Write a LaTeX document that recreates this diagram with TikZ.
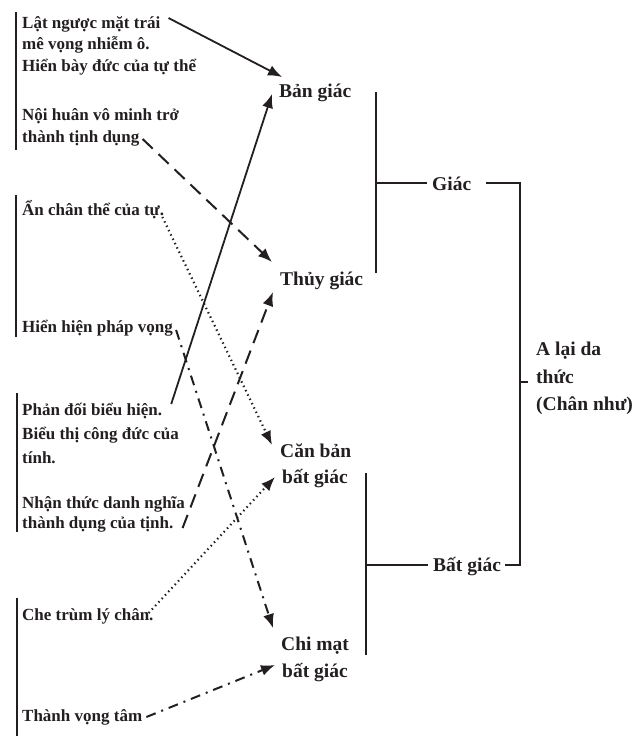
\documentclass[tikz,border=0pt]{standalone}
\usepackage{fontspec}
\setmainfont{Liberation Serif}
\usetikzlibrary{arrows.meta,calc}
\definecolor{ink}{HTML}{231F20}
\begin{document}
\begin{tikzpicture}[x=1pt,y=-1pt,
  lbl/.style={font=\fontsize{17}{20}\selectfont\bfseries, anchor=base west, inner sep=0pt, text=ink},
  mid/.style={font=\fontsize{19.5}{22}\selectfont\bfseries, anchor=base west, inner sep=0pt, text=ink},
  bar/.style={line width=2.6pt, draw=ink},
  brk/.style={line width=1.8pt, draw=ink},
  arr/.style={line width=1.8pt, draw=ink, -{Latex[length=14pt,width=11pt]}},
  longdash/.style={line width=2pt, dash pattern=on 14pt off 8pt},
  dots/.style={line width=2.2pt, dash pattern=on 1.4pt off 3.4pt},
  dashdot/.style={line width=2pt, dash pattern=on 10pt off 6pt on 2pt off 6pt},
]
\useasboundingbox (0,0) rectangle (636,736);

% left bars
\draw[bar] (16,12) -- (16,150);
\draw[bar] (16,195) -- (16,337);
\draw[bar] (17,393) -- (17,532);
\draw[bar] (17,598) -- (17,736);

% left texts
\node[lbl] (t1a) at (22,28) {Lật ngược mặt trái};
\node[lbl] (t1b) at (22,49) {mê vọng nhiễm ô.};
\node[lbl] (t1c) at (22,71) {Hiển bày đức của tự thể};
\node[lbl] (t2a) at (22,120) {Nội huân vô minh trở};
\node[lbl] (t2b) at (22,142) {thành tịnh dụng};
\node[lbl] (t3) at (22,215) {Ẩn chân thể của tự.};
\node[lbl] (t4) at (22,332) {Hiển hiện pháp vọng};
\node[lbl] (t5a) at (22,415) {Phản đối biểu hiện.};
\node[lbl] (t5b) at (22,439) {Biểu thị công đức của};
\node[lbl] (t5c) at (22,463) {tính.};
\node[lbl] (t6a) at (22,508) {Nhận thức danh nghĩa};
\node[lbl] (t6b) at (22,528) {thành dụng của tịnh.};
\node[lbl] (t7) at (22,620) {Che trùm lý chân.};
\node[lbl] (t8) at (22,721) {Thành vọng tâm};

% middle
\node[mid] (ban) at (279,97) {Bản giác};
\node[mid] (thuy) at (280,285) {Thủy giác};
\node[mid] (canA) at (280,457) {Căn bản};
\node[mid] (canB) at (282,483) {bất giác};
\node[mid] (chiA) at (281,650) {Chi mạt};
\node[mid] (chiB) at (282,677) {bất giác};

% right
\node[mid] (giac) at (432,190) {Giác};
\node[mid] (batgiac) at (433,571) {Bất giác};
\node[mid] (al1) at (536,355) {A lại da};
\node[mid] (al2) at (536,383) {thức};
\node[mid] (al3) at (536,410) {(Chân như)};

% brackets
\draw[brk] (376,92) -- (376,273);
\draw[brk] (376,183) -- ($(giac.base west)+(-5,-7)$);
\draw[brk] ($(giac.base east)+(15,-7)$) -- (520,183) -- (520,565) -- ($(batgiac.base east)+(4,-6)$);
\draw[brk] (520,382) -- ($(al2.base west)+(-8,-1)$);
\draw[brk] (366,473) -- (366,655);
\draw[brk] (366,565) -- ($(batgiac.base west)+(-5,-6)$);

% arrows
\draw[arr] ($(t1a.base east)+(8,-10)$) -- ($(ban.base west)+(3,-20)$);
\draw[arr] ($(t5a.base east)+(9,-11)$) -- ($(ban.base west)+(-7,-3)$);
\draw[arr,longdash] ($(t2b.base east)+(3,-3)$) -- ($(thuy.base west)+(-8,-23)$);
\draw[arr,longdash] ($(t6b.base east)+(9,0)$) -- ($(thuy.base west)+(-7,7)$);
\draw[arr,dots] ($(t3.base east)+(-2,2)$) -- ($(canA.base west)+(-8,-12)$);
\draw[arr,dots] ($(t7.base east)+(-5,-7)$) -- ($(canB.base west)+(-7,-6)$);
\draw[arr,dashdot] ($(t4.base east)+(3,-2)$) -- ($(chiA.base west)+(-8,-22)$);
\draw[arr,dashdot] ($(t8.base east)+(4,-4)$) -- ($(chiB.base west)+(-7,-12)$);
\end{tikzpicture}
\end{document}
